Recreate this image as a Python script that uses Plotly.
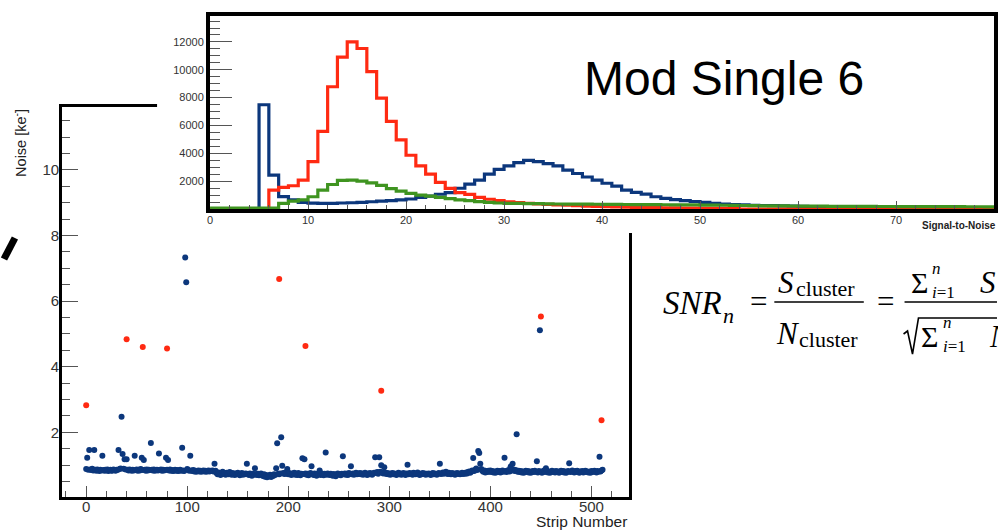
import plotly.graph_objects as go

W, H = 998, 530


def px(x):
    return x / W


def py(y):
    return 1 - y / H


# ---------------- data: noise per strip (ke) ----------------
noise_ke = [
    0.88, 1.23, 0.86, 1.46, 0.87, 0.85, 0.89, 0.84, 1.46, 0.86, 0.83, 0.87, 0.85, 0.82, 0.86, 0.84,
    1.29, 0.85, 0.83, 0.86, 0.84, 0.87, 0.82, 0.85, 0.86, 0.83, 0.84, 0.87, 0.85, 0.83, 0.86, 0.85,
    1.46, 0.88, 0.90, 2.48, 1.34, 0.89, 1.18, 0.87, 1.18, 0.86, 0.84, 0.87, 0.85, 0.83, 0.86, 0.84,
    1.29, 0.85, 0.87, 0.83, 0.86, 0.84, 0.88, 1.23, 0.85, 1.16, 0.86, 0.83, 0.87, 0.84, 0.86, 0.85,
    1.68, 0.86, 0.84, 0.87, 0.83, 0.85, 0.86, 0.84, 1.36, 0.85, 0.87, 0.83, 0.86, 0.84, 0.85, 1.23,
    0.86, 1.16, 0.84, 0.87, 0.83, 0.85, 0.82, 0.84, 0.86, 0.83, 0.85, 0.82, 0.84, 0.86, 0.83, 1.53,
    0.84, 0.82, 7.33, 6.58, 0.88, 0.85, 0.83, 1.29, 0.84, 0.82, 0.85, 0.81, 0.83, 0.80, 0.82, 0.84,
    0.81, 0.83, 0.80, 0.82, 0.84, 0.81, 0.83, 0.80, 0.82, 0.84, 0.81, 0.83, 0.82, 0.84, 0.81, 1.04,
    0.83, 0.76, 0.72, 0.78, 0.74, 0.70, 0.76, 0.80, 0.73, 0.75, 0.71, 0.77, 0.74, 0.72, 0.79, 0.75,
    0.71, 0.76, 0.73, 0.70, 0.75, 0.72, 0.77, 0.74, 0.69, 0.73, 0.76, 0.71, 0.74, 0.72, 0.75, 1.04,
    0.73, 0.70, 0.75, 0.72, 0.68, 0.74, 0.71, 0.91, 0.73, 0.70, 0.74, 0.69, 0.72, 0.75, 0.70, 0.67,
    0.72, 0.65, 0.70, 0.63, 0.68, 0.66, 0.71, 0.64, 0.69, 0.67, 0.72, 0.70, 0.91, 1.67, 0.74, 0.72,
    0.75, 1.85, 0.98, 0.76, 0.73, 0.78, 0.74, 0.88, 0.72, 0.76, 0.73, 0.70, 0.75, 0.72, 0.77, 0.71,
    0.74, 0.70, 0.76, 0.72, 0.69, 0.74, 1.21, 0.73, 1.18, 0.75, 0.71, 0.74, 0.69, 0.72, 0.76, 0.97,
    0.73, 0.70, 0.75, 0.71, 0.68, 0.74, 0.72, 0.84, 0.70, 0.75, 0.72, 0.69, 0.74, 1.39, 0.71, 0.75,
    0.72, 0.70, 0.74, 0.71, 0.68, 0.73, 0.70, 0.66, 0.72, 0.75, 0.71, 0.73, 0.69, 0.74, 1.27, 0.72,
    0.75, 0.71, 0.74, 0.70, 0.76, 0.73, 0.97, 0.72, 0.75, 0.71, 0.74, 0.77, 0.72, 0.75, 0.73, 0.76,
    0.72, 0.75, 0.71, 0.74, 0.77, 0.73, 0.70, 0.75, 0.72, 0.76, 0.73, 0.71, 0.75, 0.77, 1.24, 0.76,
    0.79, 0.74, 1.24, 0.80, 1.00, 0.78, 0.75, 0.94, 0.77, 0.73, 0.76, 0.72, 0.75, 0.71, 0.74, 0.76,
    0.72, 0.75, 0.73, 0.70, 0.74, 0.77, 0.72, 0.75, 0.71, 0.74, 0.76, 0.73, 0.70, 0.75, 1.01, 0.72,
    0.76, 0.73, 0.75, 0.71, 0.77, 0.74, 0.72, 0.75, 0.78, 0.73, 0.70, 0.74, 0.72, 0.76, 0.73, 0.75,
    0.71, 0.74, 0.72, 0.75, 0.73, 0.70, 0.74, 0.76, 0.72, 0.75, 0.73, 0.71, 0.74, 0.76, 1.04, 0.73,
    0.75, 0.78, 0.74, 0.76, 0.80, 0.75, 0.73, 0.77, 0.74, 0.72, 0.76, 0.73, 0.75, 0.71, 0.74, 0.76,
    0.73, 0.75, 0.72, 0.74, 0.77, 0.73, 0.76, 0.74, 0.78, 0.75, 0.79, 0.81, 0.77, 0.80, 0.84, 1.22,
    0.82, 0.86, 0.90, 0.85, 1.43, 1.37, 1.04, 0.88, 0.83, 0.80, 0.84, 0.78, 0.82, 0.79, 0.83, 0.80,
    0.84, 0.79, 0.82, 0.78, 0.81, 0.77, 0.80, 0.83, 0.79, 0.82, 0.78, 0.81, 0.84, 0.80, 1.23, 0.82,
    0.79, 0.83, 0.85, 0.81, 0.96, 0.84, 1.04, 0.87, 0.82, 0.85, 1.94, 0.80, 0.83, 0.79, 0.82, 0.78,
    0.81, 0.77, 0.80, 0.83, 0.79, 0.82, 0.78, 0.81, 0.77, 0.80, 0.82, 0.79, 0.83, 0.80, 1.12, 0.78,
    0.82, 5.11, 0.80, 0.77, 0.81, 0.84, 0.79, 0.91, 0.82, 0.78, 0.81, 0.77, 0.80, 0.83, 0.79, 0.81,
    0.78, 0.82, 0.79, 0.81, 0.77, 0.80, 0.83, 0.79, 0.82, 0.78, 0.81, 0.77, 0.80, 0.82, 1.06, 0.79,
    0.81, 0.84, 0.80, 0.78, 0.82, 0.79, 0.83, 0.80, 0.77, 0.81, 0.79, 0.82, 0.78, 0.80, 0.83, 0.79,
    0.81, 0.78, 0.80, 0.77, 0.82, 0.79, 0.81, 0.83, 0.80, 0.78, 0.82, 0.80, 1.26, 0.81, 0.84, 0.86,
]
strip_number = list(range(len(noise_ke)))

bad_strips = [0, 40, 56, 80, 191, 217, 292, 450, 510]
bad_noise_ke = [2.83, 4.84, 4.60, 4.56, 6.68, 4.63, 3.27, 5.53, 2.37]

# ---------------- data: signal-to-noise histograms (bin width 1, 0..80) ----------------
snr_edges = list(range(0, 81))
counts_blue = [
    0, 0, 0, 0, 0, 7490, 2430, 890, 650, 480,
    420, 400, 410, 430, 450, 480, 520, 560, 600, 650,
    720, 840, 930, 1060, 1170, 1490, 1790, 2070, 2500, 2840,
    3100, 3330, 3500, 3400, 3260, 3100, 2790, 2550, 2300, 2070,
    1850, 1650, 1360, 1190, 1070, 880, 760, 670, 600, 540,
    480, 410, 360, 310, 290, 270, 250, 240, 225, 210,
    190, 170, 160, 140, 130, 120, 110, 100, 90, 80,
    70, 60, 55, 50, 45, 40, 35, 30, 25, 20,
]
counts_red = [
    0, 0, 0, 0, 0, 0, 1360, 1550, 1670, 2070,
    3400, 5570, 8780, 10910, 12010, 11530, 9870, 7970, 6300, 4970,
    3860, 3100, 2500, 1910, 1480, 1170, 1050, 840, 700, 600,
    520, 460, 410, 370, 330, 300, 270, 240, 210, 190,
    170, 150, 135, 120, 110, 100, 90, 80, 70, 60,
    55, 50, 45, 40, 0, 0, 0, 0, 0, 0,
    0, 0, 0, 0, 0, 0, 0, 0, 0, 0,
    0, 0, 0, 0, 0, 0, 0, 0, 0, 0,
]
counts_green = [
    60, 60, 60, 60, 60, 60, 60, 410, 560, 650,
    880, 1360, 1760, 2050, 2070, 2000, 1880, 1690, 1460, 1290,
    1120, 1000, 930, 840, 740, 650, 600, 530, 480, 430,
    410, 400, 390, 380, 370, 360, 355, 350, 345, 340,
    335, 330, 325, 320, 315, 310, 305, 300, 295, 290,
    285, 280, 270, 260, 250, 240, 230, 225, 220, 215,
    210, 205, 200, 190, 188, 186, 184, 182, 180, 178,
    176, 174, 172, 170, 168, 166, 164, 162, 160, 158,
]

BLUE = "#0c377c"
RED = "#ff2a12"
GREEN = "#3f9420"
SANS = "Liberation Sans, Arial, sans-serif"
SERIF = "Liberation Serif, Times New Roman, serif"

fig = go.Figure()

# scatter: noise vs strip
fig.add_trace(go.Scatter(x=strip_number, y=noise_ke, mode="markers",
                         marker=dict(size=6, color=BLUE), xaxis="x", yaxis="y"))
fig.add_trace(go.Scatter(x=bad_strips, y=bad_noise_ke, mode="markers",
                         marker=dict(size=6, color=RED), xaxis="x", yaxis="y"))

# blank cover subplot (white background of the pasted inset)
fig.add_trace(go.Scatter(x=[0.5], y=[0.5], mode="markers", marker=dict(opacity=0),
                         hoverinfo="skip", xaxis="x2", yaxis="y2"))


def step(counts):
    return counts + [counts[-1]]


for counts, col in [(counts_blue, BLUE), (counts_red, RED), (counts_green, GREEN)]:
    fig.add_trace(go.Scatter(x=snr_edges, y=step(counts), mode="lines", line_shape="hv",
                             line=dict(color=col, width=3.2), xaxis="x3", yaxis="y3"))

tick_font = dict(family=SANS, size=15, color="#333333")
small_font = dict(family=SANS, size=11, color="#333333")

fig.update_layout(
    width=W, height=H, margin=dict(l=0, r=0, t=0, b=0),
    paper_bgcolor="white", plot_bgcolor="white", showlegend=False,
    xaxis=dict(domain=[px(59.5), px(630)], range=[-23.8, 537.4], anchor="y",
               showline=True, linewidth=3, linecolor="black", mirror=True,
               ticks="inside", ticklen=11, tickwidth=1.3, tickcolor="#555555",
               tick0=0, dtick=100, showgrid=False, zeroline=False, tickfont=tick_font,
               ticklabelstandoff=-6,
               minor=dict(dtick=20, ticks="inside", ticklen=6, tickcolor="#555555", showgrid=False)),
    yaxis=dict(domain=[py(497), py(107)], range=[0.03, 11.92], anchor="x",
               showline=True, linewidth=3, linecolor="black", mirror=True,
               ticks="inside", ticklen=16, tickwidth=1.3, tickcolor="#555555",
               tick0=0, dtick=2, showgrid=False, zeroline=False, tickfont=tick_font,
               ticklabelstandoff=-3,
               minor=dict(dtick=0.5, ticks="inside", ticklen=8, tickcolor="#555555", showgrid=False)),
    xaxis2=dict(domain=[px(155), 1], range=[0, 1], visible=False, anchor="y2"),
    yaxis2=dict(domain=[py(233), 1], range=[0, 1], visible=False, anchor="x2"),
    xaxis3=dict(domain=[px(208.3), px(997)], range=[0, 80], anchor="y3",
                showline=True, linewidth=4, linecolor="black", mirror=True,
                ticks="inside", ticklen=8, tickwidth=1.2, tickcolor="#555555",
                tick0=0, dtick=10, showgrid=False, zeroline=False, tickfont=small_font,
                ticklabelstandoff=-2,
                minor=dict(dtick=2, ticks="inside", ticklen=4, tickcolor="#555555", showgrid=False)),
    yaxis3=dict(domain=[py(209), py(15.5)], range=[0, 13900], anchor="x3",
                showline=True, linewidth=4, linecolor="black", mirror=True,
                ticks="inside", ticklen=22, tickwidth=1.2, tickcolor="#555555",
                tickmode="array", tickvals=[2000, 4000, 6000, 8000, 10000, 12000],
                tickformat="d", showgrid=False, zeroline=False, tickfont=small_font,
                minor=dict(tick0=0, dtick=500, ticks="inside", ticklen=10, tickcolor="#555555", showgrid=False)),
)

anns = []


def ann(text, x, y, size, family=SANS, xanchor="left", yanchor="middle", color="black", angle=0):
    anns.append(dict(text=text, x=px(x), y=py(y), xref="paper", yref="paper",
                     xanchor=xanchor, yanchor=yanchor, showarrow=False, textangle=angle,
                     font=dict(family=family, size=size, color=color), borderpad=0))


ann("Noise [ke<sup>-</sup>]", 17, 143, 14.5, angle=-90, xanchor="center", color="#222222")
ann("Strip Number", 629, 521, 15.5, xanchor="right", color="#222222")
ann("<b>Signal-to-Noise</b>", 1000, 225, 10, xanchor="right", color="#222222")
ann("Mod Single 6", 584, 79, 48)

# formula
ann("<i>SNR</i>", 663, 303, 33, family=SERIF)
ann("<i>n</i>", 723, 315, 22, family=SERIF)
ann("=", 751, 301, 31, family=SERIF)
ann("<i>S</i>", 779, 282, 31, family=SERIF)
ann("cluster", 797, 288, 22, family=SERIF)
ann("<i>N</i>", 777, 333, 31, family=SERIF)
ann("cluster", 800, 339, 22, family=SERIF)
ann("=", 878, 301, 31, family=SERIF)
ann("Σ", 912, 282, 30, family=SERIF)
ann("<i>n</i>", 934, 268, 17, family=SERIF)
ann("<i>i</i>=1", 934, 292, 17, family=SERIF)
ann("<i>S</i>", 982, 282, 31, family=SERIF)
ann("Σ", 923, 336, 30, family=SERIF)
ann("<i>n</i>", 945, 322, 17, family=SERIF)
ann("<i>i</i>=1", 945, 346, 17, family=SERIF)
ann("<i>N</i>", 991, 336, 31, family=SERIF)

fig.update_layout(annotations=anns)

shapes = [
    # fraction bars
    dict(type="line", xref="paper", yref="paper", x0=px(776), x1=px(866), y0=py(302), y1=py(302),
         line=dict(color="black", width=1.6)),
    dict(type="line", xref="paper", yref="paper", x0=px(907), x1=px(1000), y0=py(302), y1=py(302),
         line=dict(color="black", width=1.6)),
    # square root sign
    dict(type="path", xref="paper", yref="paper",
         path=f"M {px(906)},{py(334)} L {px(910)},{py(331)} L {px(915)},{py(354)} L {px(921)},{py(318)} L {px(1000)},{py(318)}",
         line=dict(color="black", width=1.6)),
    # fragment of a large glyph at left edge
    dict(type="line", xref="paper", yref="paper", x0=px(12), x1=px(1), y0=py(238), y1=py(259),
         line=dict(color="black", width=7)),
]
fig.update_layout(shapes=shapes)

fig.write_html("out.html", config={"displayModeBar": False},
               post_script="document.body.style.margin='0px';document.body.style.overflow='hidden';")
